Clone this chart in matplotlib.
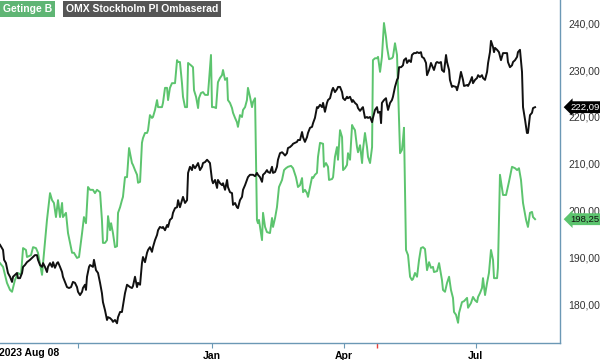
import matplotlib
matplotlib.use("Agg")
import matplotlib.pyplot as plt
import matplotlib.transforms as mtransforms
import pandas as pd

plt.rcParams['font.family'] = ['Liberation Sans', 'DejaVu Sans']

start = pd.Timestamp('2023-08-08')

# days since start, and price (SEK)
getinge_days = [0.0, 2.1, 4.8, 6.9, 8.3, 10.3, 12.4, 14.5, 15.9, 17.9, 18.6, 21.4, 22.8, 24.8, 26.2, 29.0, 29.7,
                32.4, 34.5, 35.9, 37.2, 38.6, 40.0, 41.4, 42.8, 43.4, 45.5, 46.9, 49.7, 51.0, 53.1, 54.5, 56.6,
                57.9, 59.3, 60.7, 62.1, 64.1, 65.5, 66.9, 69.0, 70.3, 71.0, 72.4, 73.8, 74.5, 75.9, 76.6, 77.9,
                79.3, 80.7, 81.4, 82.8, 84.1, 84.8, 86.2, 87.6, 89.0, 91.0, 91.7, 93.1, 94.5, 95.2, 96.6, 97.9,
                98.6, 100.0, 101.4, 102.1, 103.4, 104.8, 105.5, 106.9, 108.3, 109.0, 110.3, 111.7, 112.4, 113.8,
                115.2, 115.9, 117.2, 118.6, 120.7, 122.1, 122.8, 124.1, 125.5, 126.2, 127.6, 129.0, 129.7, 131.7,
                133.1, 133.8, 135.2, 136.6, 137.2, 138.6, 140.0, 141.4, 143.4, 145.5, 146.2, 147.6, 149.0, 150.3,
                151.7, 153.1, 153.8, 155.2, 156.6, 157.2, 158.6, 160.0, 160.7, 162.1, 163.4, 164.1, 165.5, 166.9,
                167.6, 169.0, 170.3, 171.0, 172.4, 173.8, 174.5, 175.9, 177.2, 177.9, 178.6, 180.7, 181.4, 182.8,
                184.1, 186.2, 187.6, 188.3, 189.7, 191.0, 192.4, 194.5, 195.9, 197.2, 198.6, 200.7, 202.1, 204.1,
                205.5, 206.9, 208.3, 209.0, 210.3, 211.7, 212.4, 213.8, 215.2, 215.9, 217.2, 218.6, 219.3, 220.7,
                222.8, 223.4, 224.8, 226.2, 226.9, 229.0, 229.7, 231.0, 232.4, 233.1, 234.5, 235.9, 236.6, 237.9,
                239.3, 240.0, 241.4, 242.8, 243.4, 244.8, 246.2, 246.9, 248.3, 249.7, 250.3, 251.7, 253.1, 253.8,
                255.2, 256.6, 257.2, 258.6, 260.0, 260.7, 262.1, 263.4, 264.8, 266.2, 266.9, 268.3, 270.3, 271.0,
                272.4, 273.8, 274.5, 275.9, 277.2, 277.9, 278.6, 280.0, 281.4, 282.8, 284.1, 284.8, 286.2, 287.6,
                289.0, 290.3, 291.7, 293.1, 294.5, 295.9, 297.2, 298.6, 299.3, 301.4, 302.8, 304.8, 305.5, 306.9,
                308.3, 309.7, 311.0, 312.4, 313.1, 314.5, 315.9, 316.6, 318.6, 320.0, 322.1, 322.8, 324.8, 326.2,
                327.6, 329.0, 329.7, 331.0, 332.4, 333.1, 334.5, 335.9, 337.2, 338.6, 340.0, 340.7, 342.8, 343.4,
                344.8, 346.9, 349.0, 351.0, 353.1, 355.2, 356.6, 357.9, 359.3, 360.7, 362.8, 364.1, 365.5, 366.9,
                367.6, 369.0]
getinge_vals = [188.9, 188.1, 184.7, 183.2, 182.8, 185.3, 186.8, 186.4, 192.1, 191.7, 190.2, 190.6, 192.3, 192.1,
                191.1, 186.4, 188.9, 198.1, 203.8, 202.3, 201.7, 198.7, 202.3, 198.7, 201.7, 198.7, 199.6, 195.3,
                191.1, 191.1, 190.0, 190.2, 195.3, 198.7, 197.4, 205.1, 204.5, 204.5, 203.8, 204.5, 204.0, 198.1,
                193.2, 193.2, 193.8, 198.9, 195.9, 197.4, 195.3, 192.3, 192.5, 199.6, 200.8, 202.3, 203.0, 207.2,
                207.2, 213.4, 210.2, 209.8, 208.7, 207.7, 206.0, 206.2, 214.5, 215.5, 216.6, 216.6, 217.2, 220.4,
                219.8, 220.0, 221.5, 223.6, 222.1, 222.1, 222.1, 223.0, 226.2, 226.2, 223.6, 226.2, 227.2, 227.2,
                232.1, 231.7, 231.7, 227.2, 224.3, 222.1, 222.1, 231.5, 231.0, 230.6, 225.7, 224.3, 221.9, 224.0,
                225.1, 225.3, 224.7, 224.7, 233.2, 222.1, 222.1, 221.9, 227.4, 228.3, 228.9, 230.0, 227.9, 228.3,
                223.6, 223.0, 221.9, 220.9, 219.8, 218.9, 217.9, 220.4, 220.0, 221.5, 222.1, 223.6, 226.2, 224.3,
                222.1, 223.2, 224.0, 198.1, 197.4, 198.1, 193.8, 199.6, 196.6, 195.5, 195.3, 198.5, 196.6, 198.5,
                200.8, 205.1, 206.6, 208.7, 209.1, 209.4, 209.6, 209.1, 207.2, 205.1, 205.5, 207.0, 204.0, 204.5,
                203.8, 203.0, 205.1, 207.2, 207.0, 207.7, 208.1, 211.5, 214.5, 214.3, 209.4, 210.2, 209.4, 206.6,
                206.8, 207.2, 211.5, 213.6, 210.9, 217.2, 215.7, 208.7, 209.1, 209.8, 212.3, 210.9, 218.3, 217.9,
                217.2, 213.6, 212.5, 214.0, 210.2, 213.0, 216.6, 213.6, 211.5, 210.2, 213.6, 232.1, 232.5, 232.5,
                232.8, 229.6, 232.8, 240.0, 237.0, 234.9, 232.3, 232.5, 232.8, 235.7, 233.2, 226.4, 212.3, 213.0,
                215.1, 217.7, 191.7, 190.6, 186.0, 185.3, 185.5, 186.8, 186.0, 189.6, 192.1, 192.3, 191.9, 187.4,
                189.1, 187.9, 188.1, 187.0, 187.2, 188.9, 185.3, 183.2, 182.8, 184.7, 186.0, 183.2, 181.5, 178.5,
                177.9, 176.2, 178.3, 180.6, 180.8, 181.5, 179.4, 180.4, 181.7, 181.0, 180.6, 181.7, 182.5, 183.6,
                185.7, 182.1, 184.7, 186.8, 191.7, 189.6, 185.7, 185.7, 187.9, 207.7, 203.4, 203.4, 206.2, 209.4,
                209.1, 208.7, 209.1, 206.6, 201.7, 198.1, 196.6, 199.6, 199.8, 198.7, 198.25]

omx_days = [0.0, 2.1, 2.8, 4.1, 5.5, 6.9, 8.3, 9.0, 10.3, 11.7, 12.4, 13.8, 15.2, 15.9, 17.2, 18.6, 20.7, 22.1,
            22.8, 24.1, 25.5, 26.2, 27.6, 29.0, 29.7, 31.0, 32.4, 33.1, 34.5, 35.9, 36.6, 37.9, 39.3, 40.0, 41.4,
            42.8, 43.4, 44.8, 46.2, 47.6, 49.0, 50.3, 51.7, 53.1, 53.8, 55.2, 56.6, 57.2, 58.6, 59.3, 60.0, 61.4,
            62.1, 64.1, 64.8, 66.2, 67.6, 69.0, 70.3, 71.0, 72.4, 73.8, 74.5, 75.9, 77.2, 77.9, 79.3, 80.7, 81.4,
            82.8, 84.1, 86.2, 87.6, 89.7, 91.0, 91.7, 93.1, 94.5, 95.2, 96.6, 97.9, 98.6, 100.0, 101.4, 102.1,
            103.4, 104.8, 105.5, 106.9, 108.3, 109.0, 110.3, 111.7, 112.4, 113.8, 115.2, 115.9, 117.2, 118.6,
            119.3, 120.7, 122.1, 122.8, 124.1, 125.5, 126.2, 127.6, 129.0, 129.7, 131.0, 132.4, 133.1, 134.5,
            135.9, 136.6, 137.9, 139.3, 140.0, 141.4, 142.8, 144.8, 146.2, 146.9, 148.3, 149.7, 150.3, 151.7,
            153.1, 153.8, 155.2, 156.6, 157.2, 158.6, 160.0, 160.7, 162.1, 163.4, 164.1, 165.5, 166.9, 167.6,
            169.0, 170.3, 171.0, 172.4, 174.5, 175.9, 177.2, 177.9, 179.3, 180.7, 181.4, 182.8, 184.1, 184.8,
            186.2, 187.6, 188.3, 189.7, 191.0, 191.7, 193.1, 194.5, 195.2, 196.6, 197.9, 198.6, 200.0, 201.4,
            202.1, 203.4, 204.8, 205.5, 206.9, 208.3, 209.0, 210.3, 211.7, 212.4, 213.8, 215.2, 215.9, 217.2,
            218.6, 219.3, 220.7, 222.1, 222.8, 224.1, 225.5, 226.2, 227.6, 229.0, 229.7, 231.0, 232.4, 233.1,
            234.5, 235.9, 236.6, 237.9, 239.3, 240.0, 241.4, 242.8, 243.4, 244.8, 246.2, 246.9, 248.3, 249.7,
            250.3, 251.7, 253.1, 253.8, 255.2, 256.6, 257.2, 258.6, 260.0, 260.7, 262.1, 262.8, 263.4, 264.8,
            266.2, 266.9, 267.6, 269.0, 270.3, 271.0, 272.4, 273.8, 274.5, 275.2, 276.6, 277.9, 278.6, 280.0,
            280.7, 282.1, 283.4, 284.1, 285.5, 286.9, 287.6, 289.0, 290.3, 291.0, 292.4, 293.8, 294.5, 295.9,
            297.2, 297.9, 299.3, 300.7, 301.4, 302.8, 304.1, 304.8, 306.2, 307.6, 308.3, 309.7, 310.3, 311.7,
            312.4, 314.5, 315.2, 316.6, 317.9, 319.3, 320.0, 322.1, 322.8, 324.1, 325.5, 326.2, 327.6, 329.0,
            329.7, 331.0, 332.4, 333.1, 334.5, 335.9, 336.6, 337.9, 338.6, 340.0, 340.7, 341.4, 342.8, 344.1,
            345.5, 346.9, 348.3, 349.7, 350.3, 351.7, 353.1, 353.8, 355.2, 356.6, 357.2, 358.6, 360.0, 360.7,
            362.1, 363.4, 364.1, 365.5, 366.9, 367.6, 369.0]
omx_vals = [192.8, 191.7, 189.6, 188.9, 186.8, 186.0, 184.9, 186.0, 186.4, 186.8, 185.7, 185.7, 186.8, 188.1,
            188.5, 189.1, 189.6, 190.0, 190.2, 190.6, 190.6, 189.6, 188.5, 188.1, 188.9, 188.1, 187.0, 188.1,
            188.9, 188.1, 189.1, 187.9, 188.9, 189.1, 188.1, 187.0, 186.0, 184.9, 183.8, 183.6, 183.8, 184.9,
            184.7, 183.8, 182.8, 182.1, 182.8, 183.6, 184.3, 183.2, 186.0, 188.1, 188.5, 188.1, 189.6, 187.4,
            186.8, 184.7, 182.5, 180.6, 178.9, 176.8, 177.4, 177.2, 176.8, 176.4, 176.8, 176.1, 177.4, 178.5,
            178.5, 182.5, 184.3, 183.8, 183.6, 184.0, 186.0, 183.8, 184.7, 184.3, 188.9, 190.2, 189.1, 191.1,
            191.7, 192.3, 191.3, 192.3, 193.8, 194.9, 195.9, 196.6, 196.4, 196.6, 195.9, 197.0, 196.6, 198.1,
            198.5, 199.6, 200.6, 200.8, 202.3, 200.8, 202.3, 203.0, 201.7, 202.3, 208.1, 209.4, 208.7, 209.8,
            209.1, 209.8, 210.2, 208.7, 209.4, 210.2, 210.4, 210.9, 210.2, 206.6, 205.9, 206.6, 204.9, 206.6,
            205.9, 205.5, 205.9, 204.5, 206.6, 205.1, 204.0, 203.8, 201.3, 201.7, 200.8, 200.6, 202.3, 203.0,
            204.5, 205.5, 206.6, 207.2, 207.7, 207.7, 207.4, 208.1, 207.7, 207.2, 206.2, 207.7, 208.1, 208.7,
            208.3, 208.1, 209.4, 208.1, 208.3, 209.4, 210.9, 212.3, 212.5, 212.3, 211.8, 212.3, 213.4, 213.6,
            214.0, 214.3, 214.5, 214.7, 215.1, 215.1, 216.8, 215.7, 214.7, 215.7, 216.6, 217.7, 217.9, 218.7,
            219.8, 222.1, 221.9, 222.6, 222.1, 223.0, 221.1, 223.0, 223.6, 224.0, 225.7, 226.2, 225.3, 225.9,
            226.4, 226.4, 225.3, 224.0, 223.6, 224.3, 224.0, 224.3, 223.2, 223.6, 223.0, 222.6, 221.9, 221.3,
            221.9, 222.1, 219.8, 220.0, 219.8, 220.0, 218.9, 219.8, 221.5, 222.1, 220.9, 221.1, 218.7, 223.0,
            223.6, 224.0, 222.6, 221.5, 223.0, 223.6, 224.3, 226.4, 227.9, 228.3, 230.6, 230.6, 231.0, 232.1,
            232.5, 231.5, 232.1, 231.7, 233.2, 233.6, 233.6, 233.8, 233.6, 233.8, 232.8, 232.5, 231.5, 228.9,
            230.0, 231.5, 231.0, 230.0, 231.5, 231.7, 231.5, 231.7, 230.0, 229.6, 233.2, 231.7, 230.0, 227.9,
            226.4, 226.6, 226.4, 225.7, 227.4, 229.6, 227.9, 226.6, 226.8, 226.6, 227.4, 228.5, 227.2, 227.9,
            228.3, 228.9, 228.5, 228.9, 228.3, 227.9, 229.6, 231.5, 233.8, 236.2, 234.9, 233.8, 234.7, 234.3,
            233.8, 232.1, 233.6, 233.6, 233.6, 231.7, 230.6, 231.0, 231.7, 232.1, 232.8, 233.8, 234.3, 229.6,
            222.1, 219.4, 216.6, 216.6, 220.4, 220.9, 221.9, 222.09]

report_day = pd.Timestamp('2024-04-24')
green = '#5cc46e'
axis_col = '#6b98b5'

g_dates = start + pd.to_timedelta(getinge_days, unit='D')
o_dates = start + pd.to_timedelta(omx_days, unit='D')

fig = plt.figure(figsize=(6, 3.6), dpi=100)
ax = fig.add_axes([0, 17 / 360, 560 / 600, 343 / 360])

ax.plot(g_dates, getinge_vals, color=green, lw=1.4, zorder=3)
ax.plot(o_dates, omx_vals, color='#111111', lw=1.4, zorder=4)

ax.set_xlim(start, start + pd.Timedelta(days=386.2))
ax.set_ylim(171.9, 244.9)

for s in ['left', 'top']:
    ax.spines[s].set_visible(False)
for s in ['right', 'bottom']:
    ax.spines[s].set_color(axis_col)
    ax.spines[s].set_linewidth(1.0)

ax.yaxis.tick_right()
ax.set_yticks([180, 190, 200, 210, 220, 230, 240])
ax.yaxis.set_major_formatter(plt.FuncFormatter(lambda v, p: f"{v:.2f}".replace('.', ',')))
ax.tick_params(axis='y', length=0, pad=6, labelsize=7.5, labelcolor='#333333')

ax.set_xticks([pd.Timestamp('2023-10-01'), pd.Timestamp('2024-01-01'),
               pd.Timestamp('2024-04-01'), pd.Timestamp('2024-07-01')])
ax.set_xticklabels(['', 'Jan', 'Apr', 'Jul'], fontweight='bold')
ax.tick_params(axis='x', length=3.6, color=axis_col, pad=2, labelsize=7.5)
ax.set_xticks([report_day], minor=True)
ax.tick_params(axis='x', which='minor', length=3.6, color='#e8413c', width=1)

ax.text(-0.002, -0.016, '2023 Aug 08', transform=ax.transAxes, ha='left', va='top',
        fontsize=7.5, fontweight='bold')

# legend tags
ax.text(3 / 560, 1 - 9 / 343, 'Getinge B', transform=ax.transAxes, ha='left', va='center',
        color='white', fontsize=7.5, fontweight='bold',
        bbox=dict(boxstyle='square,pad=0.25', fc='#5fb574', ec='none'))
ax.text(66 / 560, 1 - 9 / 343, 'OMX Stockholm PI Ombaserad', transform=ax.transAxes, ha='left',
        va='center', color='white', fontsize=7.5, fontweight='bold',
        bbox=dict(boxstyle='square,pad=0.25', fc='#555555', ec='none'))

# last-value tags
tr = mtransforms.blended_transform_factory(ax.transAxes, ax.transData)
ax.text(1 + 10 / 560, omx_vals[-1], f"{omx_vals[-1]:.2f}".replace('.', ','), transform=tr,
        ha='left', va='center', color='white', fontsize=6.8, clip_on=False, zorder=10,
        bbox=dict(boxstyle='larrow,pad=0.15', fc='black', ec='none'))
ax.text(1 + 10 / 560, getinge_vals[-1], f"{getinge_vals[-1]:.2f}".replace('.', ','), transform=tr,
        ha='left', va='center', color='#111111', fontsize=6.8, clip_on=False, zorder=10,
        bbox=dict(boxstyle='larrow,pad=0.15', fc=green, ec='none'))

fig.savefig('out.png', dpi=100)
